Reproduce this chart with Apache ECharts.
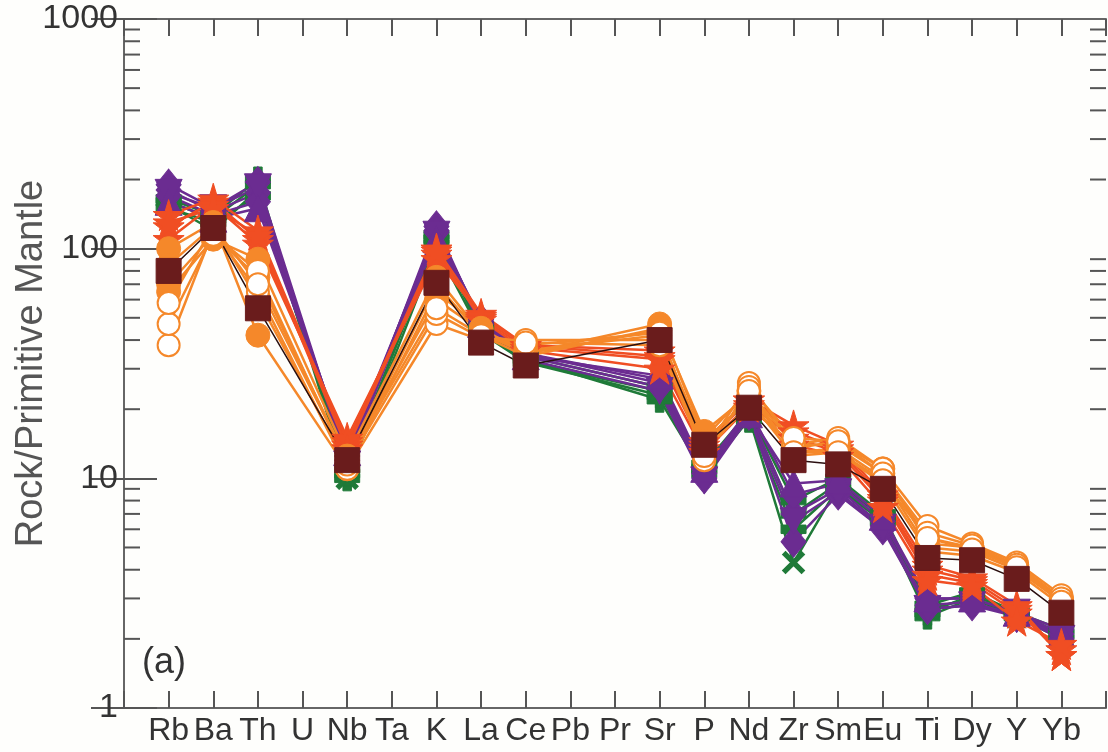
<!DOCTYPE html>
<html>
<head>
<meta charset="utf-8">
<script src="https://cdn.jsdelivr.net/npm/echarts@6/dist/echarts.min.js"></script>
<style>
html,body{margin:0;padding:0;background:#fefefc;}
#chart{width:1108px;height:752px;}
</style>
</head>
<body>
<div id="chart"></div>
<script>
// Elements (x categories)
const categories = ['Rb','Ba','Th','U','Nb','Ta','K','La','Ce','Pb','Pr','Sr','P','Nd','Zr','Sm','Eu','Ti','Dy','Y','Yb'];
// Y tick labels
const yTickLabels = [1, 10, 100, 1000];
const minorTickValues = [2,3,4,5,6,7,8,9,20,30,40,50,60,70,80,90,200,300,400,500,600,700,800,900];

// Green samples (plus / cross)
const green1 = [165,140,200,null,10,null,115,45,33,null,null,22,10.5,18,6.0,9,6.5,2.5,3.0,2.5,2.0];
const green2 = [160,135,190,null,10.5,null,110,44,32,null,null,23,11,19,7.0,9.5,6.8,2.6,3.1,2.6,2.1];
const green3 = [150,130,170,null,11,null,105,46,34,null,null,25,11.5,19.5,8.0,10,7,2.8,3.2,2.6,2.2];
const green4 = [155,120,180,null,10,null,100,43,32,null,null,24,11,18.5,4.3,9.2,6.6,2.7,3.0,2.5,2.1];
// Purple samples (diamonds)
const purple1 = [190,150,195,null,12,null,125,47,34,null,null,25,10,19,5.3,8.5,6,2.7,2.8,2.5,2.0];
const purple2 = [180,145,175,null,12.5,null,120,48,35,null,null,26,10.5,19.5,7,9,6.2,2.8,2.9,2.5,2.1];
const purple3 = [170,140,160,null,13,null,118,49,35,null,null,27,11,20,8.5,9.5,6.5,3.0,3.0,2.6,2.2];
// Purple samples (triangles)
const purple4 = [175,150,185,null,11.5,null,115,46,33,null,null,24,9.8,18.5,6.5,8.7,6.1,2.7,2.8,2.6,2.0];
const purple5 = [160,135,150,null,13,null,110,47,34,null,null,28,11,19,9.5,9.8,6.8,3.0,3.0,2.6,2.1];
// Red stars
const star1 = [140,165,120,null,14,null,100,52,38,null,null,36,14,22,17,14,8.5,4.2,3.7,2.8,1.7];
const star2 = [125,160,110,null,14.5,null,95,50,37,null,null,33,13.5,21,15,13,8,3.8,3.5,2.6,1.8];
const star3 = [110,155,105,null,15,null,90,51,38,null,null,34,14.5,22,16,13.5,8.2,4.0,3.6,2.7,1.7];
const star4 = [130,150,115,null,13.5,null,98,49,36,null,null,30,13,20.5,14,12.5,7.5,3.6,3.4,2.4,1.9];
// Orange filled circles
const orange1 = [100,130,42,null,11,null,65,45,35,null,null,47,15,24,14,14,10.5,5.5,5,4.2,3.0];
const orange2 = [85,125,60,null,11.5,null,70,42,34,null,null,45,16,23,13,13.5,10,5,4.8,4,2.9];
const orange3 = [70,115,75,null,12,null,60,44,36,null,null,42,14.5,22,12.5,13,9.5,4.8,4.6,3.9,2.8];
const orange4 = [65,110,90,null,12.5,null,75,43,35,null,null,44,13,21,13.5,14.5,11,5.2,5.0,4.1,3.0];
// Orange open circles
const orange5 = [38,120,65,null,11,null,47,40,40,null,null,40,13,26,14,15,11,6.2,5.2,4.3,3.1];
const orange6 = [47,115,80,null,11.5,null,52,41,38,null,null,43,12,25,15,14.5,10.5,5.8,5.1,4.2,3.0];
const orange7 = [58,125,70,null,12,null,55,42,39,null,null,38,12.5,24,13,13,9.8,5.5,4.9,4.1,2.9];
// Dark brown squares (average)
const average = [80,123,55,null,12,null,71,39,31,null,null,40,14,20.3,12,11.5,9,4.5,4.4,3.65,2.6];

const GREEN = '#1f7a38', PURPLE = '#6b2c91', ORANGE = '#f5882a', RED = '#f04e23', BROWN = '#6a1c1c';
const STAR = 'path://M50,0 L61,35 L98,35 L68,57 L79,91 L50,70 L21,91 L32,57 L2,35 L39,35 Z';
const PLUS = 'path://M33,0 H67 V33 H100 V67 H67 V100 H33 V67 H0 V33 H33 Z';
const XMARK = 'path://M42,0 H58 V42 H100 V58 H58 V100 H42 V58 H0 V42 H42 Z';
const FONT = 'Liberation Sans, Arial, sans-serif';

function toPairs(arr){ return arr.map((v,i)=>[i+1, v]); }
function mk(data, color, symbol, size, extra){
  return Object.assign({
    type:'line', data: toPairs(data), connectNulls:true,
    symbol: symbol, symbolSize: size, showAllSymbol: true,
    lineStyle:{color: color, width: 2.5},
    itemStyle:{color: color, borderColor: color},
    emphasis:{disabled:true}, animation:false
  }, extra || {});
}
const openStyle = {itemStyle:{color:ORANGE, borderColor:ORANGE, borderWidth:3}};

const series = [
  mk(green1, GREEN, PLUS, 25),
  mk(green2, GREEN, PLUS, 25),
  mk(green3, GREEN, PLUS, 25),
  mk(green4, GREEN, XMARK, 27, {symbolRotate:45}),
  mk(purple1, PURPLE, 'diamond', [25,31]),
  mk(purple2, PURPLE, 'diamond', [25,31]),
  mk(purple3, PURPLE, 'diamond', [25,31]),
  mk(purple4, PURPLE, 'triangle', 27, {symbolRotate:180}),
  mk(purple5, PURPLE, 'triangle', 27),
  mk(star1, RED, STAR, 31),
  mk(star2, RED, STAR, 31),
  mk(star3, RED, STAR, 31),
  mk(star4, RED, STAR, 31),
  mk(orange1, ORANGE, 'circle', 24),
  mk(orange2, ORANGE, 'circle', 24),
  mk(orange3, ORANGE, 'circle', 24),
  mk(orange4, ORANGE, 'circle', 24),
  mk(orange5, ORANGE, 'emptyCircle', 22, openStyle),
  mk(orange6, ORANGE, 'emptyCircle', 22, openStyle),
  mk(orange7, ORANGE, 'emptyCircle', 22, openStyle),
  mk(average, BROWN, 'rect', 25, {lineStyle:{color:'#2a0f0f', width:1.5}}),
  {
    type:'custom', silent:true, animation:false, z:5,
    data: minorTickValues.map(v=>[0, v]),
    renderItem: function(params, api){
      const y = api.coord([0, api.value(1)])[1];
      const cs = params.coordSys;
      const st = {stroke:'#555', lineWidth:2};
      return {type:'group', children:[
        {type:'line', shape:{x1:cs.x, y1:y, x2:cs.x+16, y2:y}, style:st},
        {type:'line', shape:{x1:cs.x+cs.width-16, y1:y, x2:cs.x+cs.width, y2:y}, style:st}
      ]};
    }
  }
];

const axisLine = {show:true, lineStyle:{color:'#666', width:2}};
const chart = echarts.init(document.getElementById('chart'), null, {renderer:'canvas'});
chart.setOption({
  backgroundColor:'#fefefc',
  animation:false,
  grid:{left:124, right:2, top:19, bottom:44, containLabel:false, outerBoundsMode:'none'},
  xAxis:[
    {type:'value', min:0, max:22, interval:1, position:'bottom',
     axisLine:axisLine, splitLine:{show:false},
     axisTick:{show:true, inside:true, length:17, lineStyle:{color:'#555', width:2}},
     axisLabel:{show:true, margin:7, fontFamily:FONT, fontSize:32, color:'#333',
       formatter:function(v){ return categories[v-1] || ''; }}},
    {type:'value', min:0, max:22, interval:1, position:'top',
     axisLine:axisLine, splitLine:{show:false},
     axisTick:{show:true, inside:true, length:17, lineStyle:{color:'#555', width:2}},
     axisLabel:{show:false}}
  ],
  yAxis:[
    {type:'log', logBase:10, min:yTickLabels[0], max:yTickLabels[yTickLabels.length-1], position:'left',
     axisLine:axisLine, splitLine:{show:false},
     axisTick:{show:true, inside:true, length:33, lineStyle:{color:'#555', width:2}},
     axisLabel:{show:true, margin:6, fontFamily:FONT, fontSize:34, color:'#333',
       formatter:function(v){ return String(Math.round(v)); }},
     name:'Rock/Primitive Mantle', nameLocation:'middle', nameGap:73, nameMoveOverlap:false,
     nameTextStyle:{fontFamily:FONT, fontSize:38, color:'#555'}},
    {type:'log', logBase:10, min:yTickLabels[0], max:yTickLabels[yTickLabels.length-1], position:'right',
     axisLine:axisLine, splitLine:{show:false},
     axisTick:{show:true, inside:true, length:33, lineStyle:{color:'#555', width:2}},
     axisLabel:{show:false}}
  ],
  graphic:[
    {type:'text', left:142, top:645, style:{text:'(a)', font:'36px "Liberation Sans", Arial, sans-serif', fill:'#333'}}
  ],
  series: series
});
</script>
</body>
</html>
